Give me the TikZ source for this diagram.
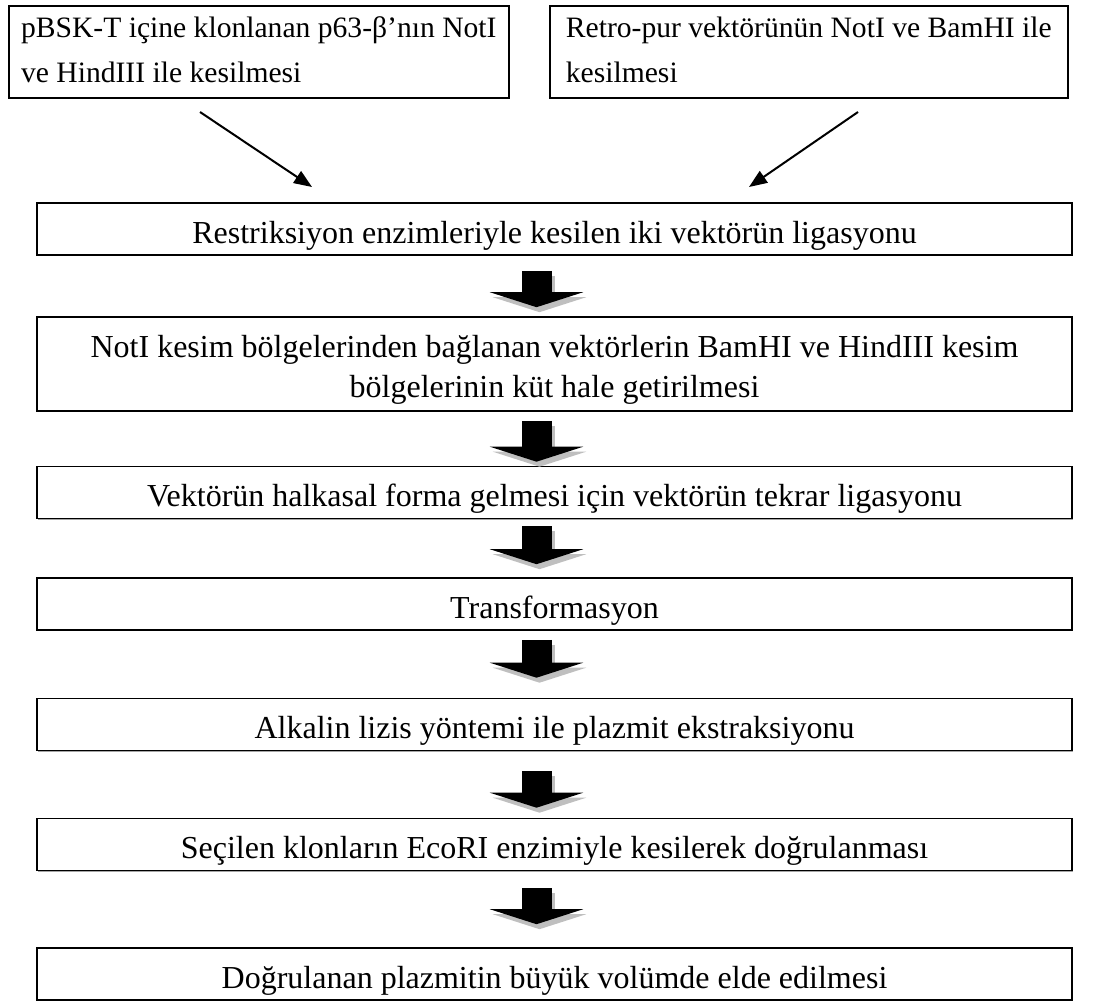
\documentclass[tikz,border=0pt]{standalone}
\usepackage{fontspec}
\setmainfont{Liberation Serif}
\usetikzlibrary{arrows.meta,shadows}

\tikzset{
  stepbox/.style={draw, line width=0.8pt, fill=white, inner sep=0pt,
    drop shadow={shadow xshift=0.6pt, shadow yshift=-0.6pt, fill=black!35, opacity=1},
    font=\fontsize{16pt}{20pt}\selectfont},
  topbox/.style={stepbox, anchor=north west, align=left, text height=38.5pt, text depth=7.5pt,
    font=\fontsize{14.8pt}{22.5pt}\selectfont},
  widebox/.style={stepbox, minimum width=517.5pt, align=center},
  onebox/.style={widebox, text height=20pt, text depth=6pt},
  twobox/.style={widebox, text height=40pt, text depth=7pt},
  thinarrow/.style={line width=1pt, -{Triangle[length=9pt,width=7pt]}},
  fatarrow/.style={line width=15pt, -{Triangle[width=46.5pt,length=7.5pt]}},
  fatshadow/.style={fatarrow, draw=black!25, transform canvas={shift={(1.5pt,-2.5pt)}}}
}

\begin{document}
\begin{tikzpicture}[x=0.5pt, y=-0.5pt]
  \useasboundingbox (0,0) rectangle (1096,1001);

  % the two starting cuts
  \node[topbox, minimum width=250pt] (pbsk) at (8,5)
    {pBSK-T içine klonlanan p63-β’nın NotI\\ve HindIII ile kesilmesi};
  \node[topbox, minimum width=259pt] (retro) at (549,5)
    {Retro-pur vektörünün NotI ve BamHI ile\\kesilmesi};

  % main steps
  \node[onebox] (ligasyon) at (554.5,229) {Restriksiyon enzimleriyle kesilen iki vektörün ligasyonu};
  \node[twobox] (kut) at (554.5,364)
    {NotI kesim bölgelerinden bağlanan vektörlerin BamHI ve HindIII kesim\\bölgelerinin küt hale getirilmesi};
  \node[onebox] (halka) at (554.5,492.5) {Vektörün halkasal forma gelmesi için vektörün tekrar ligasyonu};
  \node[onebox] (transf) at (554.5,604) {Transformasyon};
  \node[onebox] (lizis) at (554.5,724.5) {Alkalin lizis yöntemi ile plazmit ekstraksiyonu};
  \node[onebox] (ecori) at (554.5,844.5) {Seçilen klonların EcoRI enzimiyle kesilerek doğrulanması};
  \node[onebox] (buyuk) at (554.5,974) {Doğrulanan plazmitin büyük volümde elde edilmesi};

  \coordinate (pbsk out) at (200,112);
  \coordinate (pbsk in) at (312,187);
  \coordinate (retro out) at (858,112);
  \coordinate (retro in) at (749,187);

  \draw[thinarrow] (pbsk out) -- (pbsk in);
  \draw[thinarrow] (retro out) -- (retro in);

  % block arrows between steps
  \foreach \a/\b/\s/\e in {ligasyon/kut/7.5pt/4.5pt, kut/halka/4.5pt/2pt, halka/transf/3.5pt/6.5pt,
      transf/lizis/4.5pt/10pt, lizis/ecori/10pt/5pt, ecori/buyuk/8.5pt/11.5pt}{
    \draw[fatshadow, shorten <=\s, shorten >=\e] ([xshift=-9pt]\a.south) -- ([xshift=-9pt]\b.north);
    \draw[fatarrow, shorten <=\s, shorten >=\e] ([xshift=-9pt]\a.south) -- ([xshift=-9pt]\b.north);
  }
\end{tikzpicture}
\end{document}
